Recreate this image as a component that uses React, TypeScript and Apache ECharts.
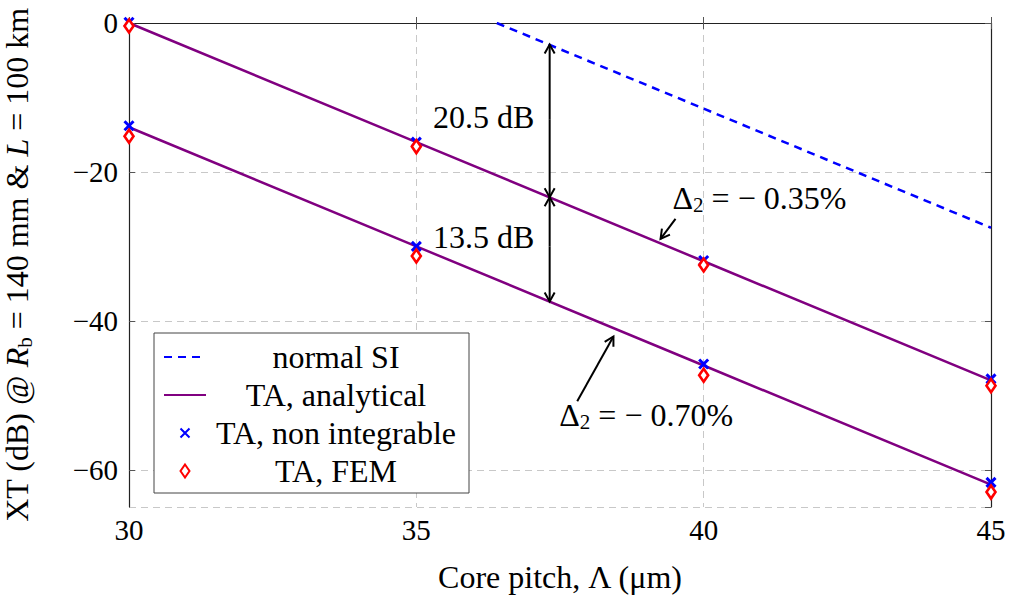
import React, { useEffect, useRef } from 'react';
import * as echarts from 'echarts';

const pitch = [30, 35, 40, 45];
const analyticalUpper = [0, -16, -32, -48];
const analyticalLower = [-14, -30, -46, -62];
const nonIntUpper = [0.1, -16.0, -31.9, -47.8];
const nonIntLower = [-13.8, -30.0, -45.8, -61.7];
const femUpper = [-0.4, -16.6, -32.5, -48.7];
const femLower = [-15.2, -31.3, -47.3, -63.0];
const siPitch = [36.4, 40, 45];
const siValues = [0, -11.5, -27.5];

// annotation arrows: x1, y1, x2, y2, heads (1 = at end)
const arrowRows = [
  [37.32, -13.0, 37.32, -2.9, 1],
  [37.32, -13.0, 37.32, -23.4, 1],
  [37.32, -30.0, 37.32, -23.4, 1],
  [37.32, -30.0, 37.32, -37.4, 1],
  [39.51, -26.3, 39.25, -29.0, 1],
  [37.8, -50.8, 38.43, -42.1, 1],
];
const noteLabels = ['20.5 dB', '13.5 dB', '{d|Δ}{s|2} = − 0.35%', '{d|Δ}{s|2} = − 0.70%'];
const noteX = [36.17, 36.17, 40.97, 39.0];
const noteY = [-12.6, -28.7, -23.5, -52.6];

const FONT = 'Liberation Serif, Times New Roman, DejaVu Serif, serif';
const FS = 32;
const TFS = 29;

const minusFmt = (v: number) => (v < 0 ? '−' + Math.abs(v) : String(v));

export default function App() {
  const ref = useRef<HTMLDivElement>(null);
  useEffect(() => {
    document.body.style.margin = '0';
    const chart = echarts.init(ref.current!, undefined, { renderer: 'svg' });
    const pair = (xs: number[], ys: number[]) => xs.map((x, i) => [x, ys[i]]);
    const xMarker = 'path://M-7,-7M7,7M-4.5,-4.5L4.5,4.5M4.5,-4.5L-4.5,4.5';
    const diamond = 'path://M-7,-7M7,7M0,-6.5L4.5,0L0,6.5L-4.5,0Z';
    const richSub = {
      d: { fontFamily: FONT, fontSize: FS, lineHeight: 36, color: '#000' },
      i: { fontFamily: FONT, fontSize: FS, fontStyle: 'italic', lineHeight: 36, color: '#000' },
      s: { fontFamily: FONT, fontSize: 21, lineHeight: 21, verticalAlign: 'bottom', color: '#000' },
    };
    const axisCommon = {
      axisLine: { show: true, lineStyle: { color: '#222', width: 1.2 } },
      axisTick: { show: true, inside: true, length: 6, lineStyle: { color: '#555', width: 1 } },
    };
    const option: any = {
      animation: false,
      backgroundColor: '#fff',
      grid: { left: 129, right: 18, top: 23, bottom: 92, outerBoundsMode: 'none', containLabel: false },
      xAxis: [
        {
          type: 'value', min: 30, max: 45, interval: 5,
          ...axisCommon,
          axisLabel: { fontFamily: FONT, fontSize: TFS, color: '#000', margin: 8, formatter: minusFmt },
          splitLine: { show: true, lineStyle: { color: '#c8c8c8', type: [7, 5], width: 1 } },
          name: 'Core pitch, Λ (μm)', nameLocation: 'middle', nameGap: 54,
          nameTextStyle: { fontFamily: FONT, fontSize: FS, color: '#000' },
        },
        {
          type: 'value', min: 30, max: 45, interval: 5, position: 'top',
          ...axisCommon,
          axisLabel: { show: false }, splitLine: { show: false },
        },
      ],
      yAxis: [
        {
          type: 'value', min: -65, max: 0, splitNumber: 3,
          ...axisCommon,
          axisLabel: { fontFamily: FONT, fontSize: TFS, color: '#000', margin: 11, showMinLabel: false, formatter: minusFmt },
          splitLine: { show: true, lineStyle: { color: '#c8c8c8', type: [7, 5], width: 1 } },
          name: 'XT (dB) @ {i|R}{s|b} = 140 mm & {i|L} = 100 km',
          nameLocation: 'middle', nameGap: 94,
          nameTextStyle: { fontFamily: FONT, fontSize: FS, color: '#000', lineHeight: 36, rich: richSub },
        },
        {
          type: 'value', min: -65, max: 0, splitNumber: 3, position: 'right',
          ...axisCommon,
          axisLabel: { show: false }, splitLine: { show: false },
        },
      ],
      legend: {
        left: 154, top: 333, orient: 'vertical',
        data: [
          { name: 'normal SI', itemStyle: { opacity: 0 } },
          { name: 'TA, analytical', itemStyle: { opacity: 0 } },
          { name: 'TA, non integrable' },
          { name: 'TA, FEM' },
        ],
        itemWidth: 42, itemHeight: 14, itemGap: 6,
        padding: [8, 8, 6, 9],
        symbolKeepAspect: true,
        backgroundColor: '#fff', borderColor: '#444', borderWidth: 1, borderRadius: 0,
        formatter: '{c|{name}}',
        textStyle: {
          fontFamily: FONT, fontSize: FS, color: '#000',
          rich: { c: { width: 250, align: 'center', fontFamily: FONT, fontSize: FS, lineHeight: 32, color: '#000' } },
        },
      },
      series: [
        {
          name: 'normal SI', type: 'line', data: pair(siPitch, siValues), symbol: 'none', clip: true,
          lineStyle: { color: '#0000ff', width: 2.5, type: [8, 6] }, itemStyle: { color: '#0000ff' }, z: 2,
        },
        {
          name: 'TA, analytical', type: 'line', data: pair(pitch, analyticalUpper), symbol: 'none',
          lineStyle: { color: '#800080', width: 2.5 }, itemStyle: { color: '#800080' }, z: 2,
        },
        {
          name: 'TA, analytical', type: 'line', data: pair(pitch, analyticalLower), symbol: 'none',
          lineStyle: { color: '#800080', width: 2.5 }, itemStyle: { color: '#800080' }, z: 2,
        },
        {
          name: 'TA, non integrable', type: 'scatter', data: pair(pitch, nonIntUpper).concat(pair(pitch, nonIntLower)),
          symbol: xMarker, symbolSize: 14, symbolKeepAspect: true, clip: false,
          itemStyle: { color: 'none', borderColor: '#0000ff', borderWidth: 3, opacity: 1 }, z: 3,
        },
        {
          name: 'TA, FEM', type: 'scatter', data: pair(pitch, femUpper).concat(pair(pitch, femLower)),
          symbol: diamond, symbolSize: 14, symbolKeepAspect: true, clip: false,
          itemStyle: { color: '#fff', borderColor: '#ff0000', borderWidth: 2.6, opacity: 1 }, z: 4,
        },
        {
          name: 'arrows', type: 'custom', data: arrowRows, clip: false, silent: true, z: 5,
          encode: { x: [0, 2], y: [1, 3] },
          renderItem: (_p: any, api: any) => {
            const a = api.coord([api.value(0), api.value(1)]);
            const b = api.coord([api.value(2), api.value(3)]);
            const dx = b[0] - a[0], dy = b[1] - a[1];
            const L = Math.hypot(dx, dy) || 1;
            const ux = dx / L, uy = dy / L;
            const len = 9, w = 5;
            return {
              type: 'group',
              children: [
                { type: 'line', shape: { x1: a[0], y1: a[1], x2: b[0], y2: b[1] }, style: { stroke: '#000', lineWidth: 2 } },
                {
                  type: 'polyline',
                  shape: { points: [
                    [b[0] - ux * len - uy * w, b[1] - uy * len + ux * w],
                    [b[0], b[1]],
                    [b[0] - ux * len + uy * w, b[1] - uy * len - ux * w],
                  ] },
                  style: { stroke: '#000', lineWidth: 2, fill: null },
                },
              ],
            };
          },
        },
        {
          name: 'notes', type: 'custom', data: noteX.map((x, i) => [x, noteY[i], i]), clip: false, silent: true, z: 6,
          renderItem: (_p: any, api: any) => {
            const p = api.coord([api.value(0), api.value(1)]);
            const idx = api.value(2);
            return {
              type: 'text', x: p[0], y: p[1],
              style: {
                text: noteLabels[idx], fontFamily: FONT, fontSize: FS, fill: '#000',
                align: 'center', verticalAlign: 'middle', lineHeight: 36, rich: richSub,
              },
            };
          },
        },
      ],
    };
    chart.setOption(option);
    return () => chart.dispose();
  }, []);
  return <div ref={ref} style={{ width: 1009, height: 599 }} />;
}
